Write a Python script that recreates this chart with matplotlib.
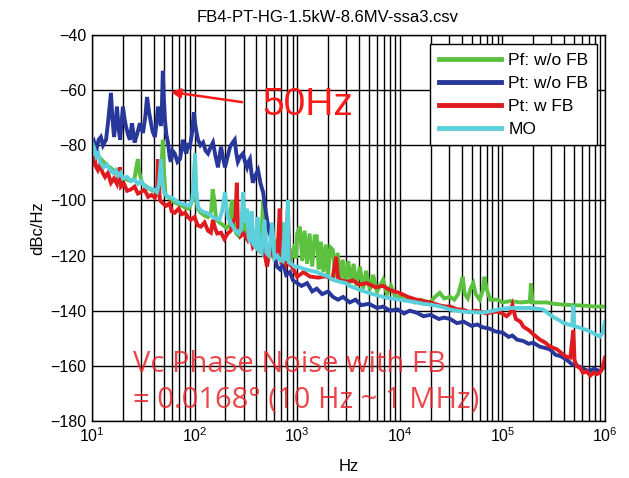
import matplotlib
matplotlib.use('Agg')
import matplotlib.pyplot as plt
from matplotlib.ticker import LogLocator, FixedLocator

# Datos (frecuencia en Hz, nivel en dBc/Hz)
green_f = [10, 10.5, 11, 11.6, 12.2, 13, 14, 15, 16, 17, 18, 19, 20, 22, 24, 26, 27, 28, 29, 31, 34, 37, 40, 43, 46, 48, 49, 50, 52, 56, 60, 66, 72, 80, 88, 95, 99, 101, 103, 107, 115, 125, 135, 145, 150, 156, 162, 175, 190, 205, 220, 230, 240, 255, 270, 285, 300, 315, 340, 380, 420, 450, 465, 480, 520, 560, 600, 640, 680, 720, 760, 810, 860, 920, 970, 1000, 1060, 1120, 1180, 1250, 1320, 1400, 1480, 1550, 1620, 1700, 1800, 1900, 2000, 2100, 2230, 2350, 2480, 2620, 2780, 2950, 3150, 3350, 3550, 3800, 4080, 4400, 4700, 5100, 5500, 6000, 6870, 7500, 8200, 9000, 10000, 11000, 12500, 14000, 16000, 18000, 20000, 22000, 24500, 27000, 31000, 34000, 37000, 39000, 41000, 43000, 46000, 49000, 52000, 55000, 60000, 64000, 67000, 70000, 76000, 90000, 100000, 120000, 150000, 185000, 190000, 196000, 230000, 270000, 320000, 390000, 500000, 650000, 800000, 1000000]
green_db = [-82, -80.5, -83, -84, -85, -86, -87.5, -88, -89, -90, -89, -91, -92, -92.5, -93, -92, -88, -85, -90, -94, -95, -96, -96.5, -97, -95, -85, -78, -88, -98, -99, -100, -101, -101.5, -102.5, -103, -100, -90, -85, -98, -103, -104.5, -105.5, -106, -104, -96, -100, -107, -108, -109, -110, -109, -100, -108, -112, -113, -111, -104, -112, -114, -116, -118, -112, -100, -117, -119, -120, -114, -121, -118, -108, -121, -110, -122, -118, -121, -112, -109.5, -122, -111, -123, -112, -124, -113, -113, -125, -115, -126, -116, -127, -117, -118, -128, -119, -129, -121.5, -130, -122, -130, -123, -131, -124, -132, -125.5, -132.5, -127, -133, -128.8, -134, -131, -135, -135, -136, -135.5, -137, -136, -137, -136.7, -135, -133.5, -135.5, -135, -136, -134, -131, -127.7, -134, -135.5, -132, -130, -134, -136, -133, -127.7, -132, -136, -136, -137, -136.5, -137, -136.7, -130, -137, -137, -137, -137.5, -137.8, -138, -138.2, -138.5, -138.5]

blue_f = [10, 10.5, 11, 11.6, 12.2, 12.8, 13.7, 14.3, 15.3, 15.8, 16.4, 17, 17.5, 18.2, 18.8, 19.4, 20, 20.7, 21.4, 22.4, 23.4, 24.5, 25.2, 26, 27.5, 29.3, 30.3, 31.4, 33, 34.4, 36, 37.6, 39, 41, 42.5, 44, 45.5, 47, 48, 49, 50, 51.5, 53, 55, 57, 58.6, 61, 64, 68, 72, 75, 77, 80, 83, 86, 90, 94, 98.5, 101, 104, 108, 114, 121, 128, 135, 142, 151, 160, 169, 175, 181, 190, 198, 210, 222, 235, 246, 255, 264, 280, 296, 310, 324, 335, 346, 358, 370, 390, 415, 440, 465, 485, 508, 530, 550, 580, 610, 635, 680, 730, 780, 850, 910, 1000, 1100, 1250, 1400, 1550, 1750, 2000, 2230, 2500, 2800, 3250, 3700, 4200, 5000, 6000, 6870, 8000, 9500, 11000, 12500, 14600, 17000, 20000, 24000, 27000, 31000, 36000, 42000, 50000, 57000, 64000, 75000, 85000, 101000, 115000, 125000, 139000, 160000, 180000, 200000, 230000, 260000, 290000, 330000, 370000, 420000, 480000, 540000, 610000, 700000, 780000, 890000, 1000000]
blue_db = [-81, -79, -82, -78, -77, -80, -78, -72, -61, -70, -77, -72, -66, -74, -78, -72, -66, -70, -73, -76, -78, -72, -75, -79, -76, -72, -74, -75.5, -70, -62.5, -68, -72, -75, -77, -72, -66, -70, -73, -66, -53, -62, -71, -76, -79, -84, -86, -82, -83, -86, -85, -81, -78, -81, -83, -80, -80.5, -76, -68, -72, -75, -78, -80, -79, -82, -83, -81, -79, -84, -88, -84, -80.5, -85, -88, -84, -80.5, -79, -78, -83, -86, -84, -83, -86, -88, -86, -85, -90, -93.6, -91, -89, -94, -97, -102, -107, -111, -113, -117, -121, -124, -125, -123, -127, -126, -129, -130, -131, -130, -133, -132, -134, -133, -135, -136, -135, -137, -136, -138, -137.5, -139, -138.5, -140, -139.5, -141, -140, -140.7, -142, -141.5, -143, -142.5, -143, -144.5, -144, -145.5, -145, -146, -146.5, -147.5, -148, -149.5, -149, -150.5, -151, -152, -151.6, -153, -153.5, -154, -156, -156.5, -157.7, -159.5, -160, -161, -162, -161, -162, -160]

red_f = [10, 10.5, 11, 11.4, 12, 12.7, 13.4, 14.3, 15.3, 16.4, 17.5, 18.3, 18.8, 19.2, 20.5, 22, 24, 26, 28, 30, 32.5, 35.2, 38, 41, 43, 44, 45, 46, 49, 52.6, 57, 60, 64, 70, 75, 81, 86, 92, 100, 107, 115, 125, 135, 144, 151, 158, 166, 181, 195, 210, 225, 237, 250, 258, 265, 280, 300, 324, 335, 346, 358, 370, 400, 430, 450, 480, 508, 540, 570, 600, 640, 676, 700, 730, 770, 811, 840, 888, 950, 1000, 1150, 1330, 1600, 1900, 2200, 2400, 2500, 2600, 3000, 3500, 4000, 4800, 5800, 6870, 8000, 10000, 12000, 14600, 17000, 20000, 24000, 28000, 31000, 36000, 41000, 48000, 55000, 61000, 70000, 80000, 90000, 100000, 110000, 118000, 125000, 135000, 150000, 160000, 180000, 200000, 232000, 260000, 290000, 340000, 380000, 420000, 460000, 490000, 505000, 530000, 580000, 610000, 660000, 720000, 780000, 830000, 890000, 940000, 1000000]
red_db = [-87, -84, -88, -89, -87, -90, -91.5, -90, -93.6, -92, -94, -90, -88, -95, -94, -96.5, -96, -95, -97.5, -97, -96, -98.7, -98, -99, -97, -85, -96, -100, -101, -102, -101, -104, -104.5, -103, -105, -104.5, -106, -107, -106, -109, -109.5, -108, -111, -111.7, -107, -110, -112, -111.7, -114, -112, -111, -108, -106, -93.6, -110, -113, -112, -114, -110, -109.5, -114, -116.8, -115, -116, -115.4, -119, -124, -118, -119, -121, -120, -103, -122, -121.5, -123, -103, -123, -124, -126, -127.7, -126, -127.6, -128, -127.5, -128.5, -120.4, -128, -128.8, -129.5, -129, -130.5, -130, -131.5, -131, -132.5, -133.6, -135, -136, -136.5, -137, -138, -138.5, -138.5, -139.5, -139.6, -140.5, -140, -140.3, -141, -140.5, -140.3, -141, -142, -141, -138, -143, -144, -145.8, -147, -148.5, -150.5, -151.5, -153, -154, -155.5, -156.7, -157, -147, -158, -160, -161, -162.5, -162, -163.5, -162.5, -163, -162.5, -161, -157]

cyan_f = [10, 10.5, 11, 11.5, 12, 13, 14, 15, 16, 17, 18, 19, 20, 22, 24, 26, 28, 30, 33, 36, 40, 43, 45, 47, 48.5, 50, 55, 60, 65, 72, 80, 88, 95, 99, 101, 103, 108, 118, 130, 140, 150, 160, 175, 185, 198, 210, 225, 240, 255, 270, 285, 296, 305, 325, 335, 346, 360, 375, 395, 410, 430, 450, 480, 500, 530, 570, 600, 640, 676, 720, 760, 790, 810, 830, 880, 940, 1000, 1100, 1200, 1350, 1550, 1800, 2000, 2230, 2600, 3000, 3250, 3800, 4500, 5500, 6870, 8000, 10000, 12000, 14600, 17000, 20000, 25000, 31000, 36000, 41000, 50000, 64000, 75000, 90000, 100000, 120000, 150000, 185000, 220000, 250000, 280000, 320000, 360000, 390000, 440000, 480000, 490000, 500000, 530000, 600000, 660000, 720000, 800000, 890000, 950000, 1000000]
cyan_db = [-79, -81, -84, -83, -86, -88, -87, -89, -90, -89, -91, -90, -92, -91.5, -93, -92.5, -94, -93, -95, -95.5, -96, -97, -94, -85, -93, -97, -98.7, -99, -100, -101, -101.5, -102, -100, -92, -83, -95, -102.5, -104, -104.5, -105, -106, -106.5, -107, -104, -97, -106, -108, -110, -111, -112, -110, -97, -108, -103, -113, -115.4, -104, -116, -117, -106, -118, -119, -107, -119, -120, -108, -121, -120, -121.5, -122, -108, -122, -100, -122.5, -123, -124, -124, -124.5, -125, -125.5, -126, -127, -127.5, -128.8, -129.5, -130, -131, -132, -133, -134, -135, -135.5, -136, -136.5, -137, -137.5, -137.8, -138.5, -139.6, -140, -140.3, -140.5, -140.7, -140.3, -139.6, -139.3, -139, -139, -139, -139.3, -139.6, -141, -142.5, -143.5, -144.4, -145, -145.3, -138, -145.5, -145.8, -146.5, -147, -147.6, -148.5, -149.4, -148, -144]

series_labels = ['Pf: w/o FB', 'Pt: w/o FB', 'Pt: w FB', 'MO']
y_ticks = [-40, -60, -80, -100, -120, -140, -160, -180]


def generar_grafico():
    fig = plt.figure(figsize=(6.29, 4.78), dpi=100)
    ax = fig.add_axes([92 / 629, 1 - 421 / 478, 513 / 629, 386 / 478])

    colores = ['#5cc13f', '#28389a', '#e01b1f', '#5ccfdc']
    datos = [(green_f, green_db), (blue_f, blue_db), (red_f, red_db), (cyan_f, cyan_db)]
    for (f, db), c, lab in zip(datos, colores, series_labels):
        ax.plot(f, db, color=c, lw=2.8, label=lab, solid_joinstyle='miter')

    ax.set_xscale('log')
    ax.set_xlim(10, 1e6)
    ax.set_ylim(-180, -40)
    ax.yaxis.set_major_locator(FixedLocator(y_ticks))
    ax.xaxis.set_major_locator(LogLocator(base=10))
    ax.xaxis.set_minor_locator(LogLocator(base=10, subs=range(2, 10)))

    ax.grid(which='major', color='black', lw=1.0)
    ax.grid(which='minor', axis='x', color='black', lw=1.0)
    ax.set_axisbelow(True)
    for s in ax.spines.values():
        s.set_color('black')
        s.set_linewidth(1.0)

    ax.tick_params(which='both', direction='in', length=0, labelsize=11.5, pad=4)
    for t in ax.get_xticklabels() + ax.get_yticklabels():
        t.set_family('Liberation Sans')

    ax.set_xlabel('Hz', fontsize=12, family='Liberation Sans', labelpad=10)
    ax.set_ylabel('dBc/Hz', fontsize=12, family='Liberation Sans', labelpad=4)
    fig.text(328 / 629, 1 - 17 / 478, 'FB4-PT-HG-1.5kW-8.6MV-ssa3.csv', ha='center', va='center',
             fontsize=12, family='Liberation Sans')

    leg = ax.legend(loc='upper right', bbox_to_anchor=(597 / 629, 1 - 44 / 478),
                    bbox_transform=fig.transFigure, borderaxespad=0, handlelength=3.6,
                    handletextpad=0.4, labelspacing=0.45, borderpad=0.5,
                    fancybox=False, framealpha=1, edgecolor='black',
                    prop={'family': 'Liberation Sans', 'size': 12.5})
    for l in leg.get_lines():
        l.set_linewidth(3.5)

    # anotaciones
    ax.annotate('', xy=(55, -60.5), xytext=(310, -64.5),
                arrowprops=dict(arrowstyle='-|>', color='#ff1a1a', lw=1.8, mutation_scale=14))
    ax.text(262 / 629, 1 - 105 / 478, '50Hz', transform=fig.transFigure, color='#ff1a1a',
            fontsize=28, family='Liberation Sans', va='center', ha='left')
    ax.text(133 / 629, 1 - 365 / 478, 'Vc Phase Noise with FB',
            transform=fig.transFigure, color='#e8282e', alpha=0.85, fontsize=21,
            family='Open Sans', va='center', ha='left')
    ax.text(133 / 629, 1 - 400 / 478, '= 0.0168\u00b0 (10 Hz ~ 1 MHz)',
            transform=fig.transFigure, color='#e8282e', alpha=0.85, fontsize=21,
            family='Open Sans', va='center', ha='left')

    plt.savefig('out.png', dpi=100)


if __name__ == "__main__":
    generar_grafico()
